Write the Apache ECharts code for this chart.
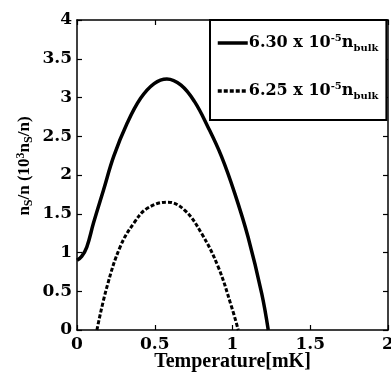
<!DOCTYPE html>
<html><head><meta charset="utf-8">
<script src="https://cdn.jsdelivr.net/npm/echarts@6/dist/echarts.min.js"></script>
<style>html,body{margin:0;padding:0;background:#fff}#c{width:391px;height:376px}</style>
</head><body><div id="c"></div>
<script>
// Data
const solidX = [0, 0.03, 0.063, 0.106, 0.171, 0.236, 0.323, 0.409, 0.496, 0.578, 0.669, 0.755, 0.842, 0.929, 1.015, 1.10, 1.188, 1.23];
const solidY = [0.90, 0.95, 1.07, 1.38, 1.81, 2.24, 2.67, 2.99, 3.18, 3.24, 3.16, 2.95, 2.62, 2.24, 1.76, 1.20, 0.47, 0];
const dashX = [0.128, 0.193, 0.279, 0.366, 0.452, 0.582, 0.69, 0.80, 0.907, 0.994, 1.037];
const dashY = [0, 0.56, 1.08, 1.38, 1.57, 1.65, 1.55, 1.25, 0.82, 0.30, 0];
const seriesNames = ['6.30', '6.25'];
const xTicks = [0, 0.5, 1, 1.5, 2];
const yTicks = [0, 0.5, 1, 1.5, 2, 2.5, 3, 3.5, 4];

const SERIF = '"Liberation Serif","Times New Roman",serif';
const WIDE = '"DejaVu Serif",serif';
const chart = echarts.init(document.getElementById('c'));
function rich(font, big, small) {
  return {
    b: {fontFamily: font, fontWeight: 'bold', fontSize: big, color: '#000', verticalAlign: 'middle', lineHeight: 20},
    s: {fontFamily: font, fontWeight: 'bold', fontSize: small, color: '#000', verticalAlign: 'bottom', lineHeight: 12},
    p: {fontFamily: font, fontWeight: 'bold', fontSize: small, color: '#000', verticalAlign: 'top', lineHeight: 12}
  };
}
const axisCommon = {
  axisLine: {show: true, onZero: false, lineStyle: {color: '#000', width: 1.5}},
  axisTick: {show: true, inside: true, length: 5, lineStyle: {color: '#000', width: 1.2}},
  splitLine: {show: false}
};
const tickFont = {fontFamily: WIDE, fontWeight: 'bold', fontSize: 17, color: '#000'};
chart.setOption({
  animation: false,
  backgroundColor: '#fff',
  grid: {left: 77, right: 3, top: 20, bottom: 46, containLabel: false, outerBoundsMode: 'none'},
  legend: {
    orient: 'vertical', left: 210, top: 20,
    backgroundColor: '#fff', borderColor: '#000', borderWidth: 2,
    padding: [13, 8, 19, 6], itemGap: 28, itemWidth: 30, itemHeight: 14,
    itemStyle: {opacity: 0},
    lineStyle: {width: 3.5},
    data: seriesNames,
    formatter: n => '{b|' + n + ' x 10}{p|-5}{b|n}{s|bulk}',
    textStyle: {rich: rich(WIDE, 16, 10), padding: [0, 0, 0, -4]}
  },
  xAxis: [
    Object.assign({}, axisCommon, {
      type: 'value', min: 0, max: 2, interval: 0.5, position: 'bottom',
      name: 'Temperature[mK]', nameLocation: 'middle', nameGap: 22, nameMoveOverlap: false,
      nameTextStyle: {fontFamily: SERIF, fontWeight: 'bold', fontSize: 20, color: '#000'},
      axisLabel: Object.assign({margin: 6, formatter: v => xTicks.includes(v) ? String(v) : ''}, tickFont)
    }),
    Object.assign({}, axisCommon, {
      type: 'value', min: 0, max: 2, interval: 0.5, position: 'top', axisLabel: {show: false}
    })
  ],
  yAxis: [
    Object.assign({}, axisCommon, {
      type: 'value', min: 0, max: 4, interval: 0.5, position: 'left',
      name: '{b|n}{s|S}{b|/n (10}{p|3}{b|n}{s|S}{b|/n)}',
      nameLocation: 'middle', nameGap: 42, nameRotate: 90, nameMoveOverlap: false,
      nameTextStyle: {rich: rich(SERIF, 17, 12), padding: [0, 0, 0, 18]},
      axisLabel: Object.assign({margin: 5, formatter: v => yTicks.includes(v) ? String(v) : ''}, tickFont)
    }),
    Object.assign({}, axisCommon, {
      type: 'value', min: 0, max: 4, interval: 0.5, position: 'right', axisLabel: {show: false}
    })
  ],
  series: [
    {
      name: seriesNames[0], type: 'line', smooth: 0.4, showSymbol: false, symbol: 'none',
      data: solidX.map((x, i) => [x, solidY[i]]),
      lineStyle: {color: '#000', width: 3.5, type: 'solid'}, itemStyle: {color: '#000'}
    },
    {
      name: seriesNames[1], type: 'line', smooth: 0.4, showSymbol: false, symbol: 'none',
      data: dashX.map((x, i) => [x, dashY[i]]),
      lineStyle: {color: '#000', width: 3, type: [4, 2]}, itemStyle: {color: '#000'}
    }
  ]
});
</script></body></html>
